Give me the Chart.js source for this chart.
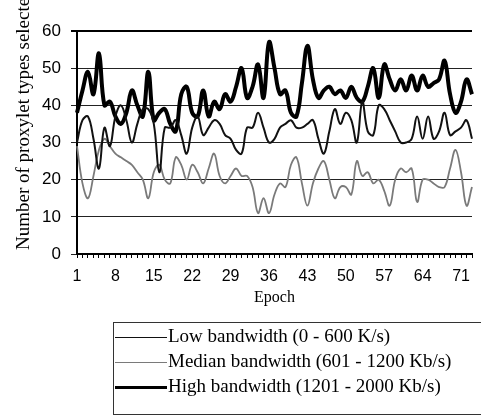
<!DOCTYPE html>
<html><head><meta charset="utf-8">
<script src="https://cdn.jsdelivr.net/npm/chart.js@4.4.0/dist/chart.umd.min.js"></script>
<style>
html,body{margin:0;padding:0;background:#fff;width:481px;height:419px;overflow:hidden;}
#wrap{position:relative;width:481px;height:419px;}
canvas{position:absolute;left:0;top:0;}
#legend{position:absolute;left:113px;top:322px;width:380px;height:93px;border:1px solid #333;box-sizing:border-box;font-family:'Liberation Serif','Times New Roman',serif;font-size:19px;color:#000;}
.row{position:absolute;left:1px;height:24px;line-height:24px;white-space:nowrap;}
.sw{display:inline-block;width:52px;vertical-align:middle;margin-right:1px;}
</style></head>
<body><div id="wrap"><canvas id="c" width="481" height="419"></canvas><div id="legend"></div></div>
<script>
const epochs = [1,2,3,4,5,6,7,8,9,10,11,12,13,14,15,16,17,18,19,20,21,22,23,24,25,26,27,28,29,30,31,32,33,34,35,36,37,38,39,40,41,42,43,44,45,46,47,48,49,50,51,52,53,54,55,56,57,58,59,60,61,62,63,64,65,66,67,68,69,70,71,72,73];
const tickLabels = ['1','8','15','22','29','36','43','50','57','64','71'];
const seriesNames = ['Low bandwidth (0 - 600 K/s)','Median bandwidth (601 - 1200 Kb/s)','High bandwidth (1201 - 2000 Kb/s)'];
const lowBw = [30,36,37,31,23,34,29,37,40,36,30,35,39,39,35,22,34,34,36,32,27,34,37,32,34,36,35,32,31,28,27,34,34,38,34,30,31,34,35,36,34,34,35,36,31,27,33,39,35,38,36,30,41,33,32,40,39,36,33,30,30,31,37,31,37,31,33,38,32,33,34,36,31];
const medianBw = [29,19,15,21,28,31,29,27,26,25,24,22,20,15,22,24,20,19,26,24,20,24,22,19,23,27,21,19,21,23,21,21,18,11,15,11,16,19,18,24,26,19,13,19,23,25,20,15,18,18,16,25,21,22,19,20,17,13,20,23,22,23,14,20,20,19,18,18,23,28,22,13,18];
const highBw = [38,44,49,43,54,40,41,37,35,38,44,40,37,49,36,38,39,35,33,43,45,38,37,44,37,41,39,43,41,45,50,42,45,51,42,57,50,43,44,38,37,46,56,47,42,44,45,43,44,42,45,42,41,45,50,42,51,47,44,47,44,48,44,48,45,46,47,52,43,38,41,47,43];
const yTitle = 'Number of proxylet types selected';
const xTitle = 'Epoch';

const colors = ['#111111','#7a7a7a','#000000'];
const widths = [2,1.8,4];

const yTitlePlugin = {id:'ytitle', afterDraw(chart){
  const c = chart.ctx; c.save();
  c.font = '19px "Liberation Serif", "Times New Roman", serif';
  c.fillStyle = '#000';
  c.translate(29, 250); c.rotate(-Math.PI/2);
  c.textAlign = 'left'; c.textBaseline = 'alphabetic';
  c.fillText(yTitle, 0, 0); c.restore();
}};

new Chart(document.getElementById('c'), {
  type: 'line',
  data: {
    labels: epochs,
    datasets: [lowBw, medianBw, highBw].map((d, i) => ({
      label: seriesNames[i], data: d, borderColor: colors[i], borderWidth: widths[i],
      pointRadius: 0, tension: 0.4, fill: false
    }))
  },
  options: {
    responsive: false, animation: false, devicePixelRatio: 1,
    layout: {padding: {left: 0, right: 3, top: 31, bottom: 108}},
    plugins: {legend: {display: false}, tooltip: {enabled: false}},
    scales: {
      x: {
        type: 'category', offset: false,
        grid: {drawOnChartArea: false, drawTicks: true, tickLength: 4, color: '#000', lineWidth: 1},
        border: {color: '#000', width: 2},
        ticks: {autoSkip: false, maxRotation: 0, minRotation: 0, padding: 9, color: '#000',
          font: {family: '"Liberation Sans", Arial, sans-serif', size: 16},
          callback: function(v, i){ const l = String(epochs[i]); return tickLabels.includes(l) ? l : ''; }},
        title: {display: true, text: xTitle, color: '#000', font: {family: '"Liberation Serif", "Times New Roman", serif', size: 16}, padding: {top: 4, bottom: 4}},
        afterFit: function(s){ s.height = 57; }
      },
      y: {
        min: 0, max: 60,
        ticks: {stepSize: 10, padding: 10, color: '#000', font: {family: '"Liberation Sans", Arial, sans-serif', size: 17}},
        grid: {tickLength: 6, color: (ctx) => ctx.tick && ctx.tick.value === 60 ? '#000' : '#222', lineWidth: (ctx) => ctx.tick && ctx.tick.value === 60 ? 2 : 1},
        border: {color: '#000', width: 2},
        afterFit: function(s){ s.width = 77; }
      }
    }
  },
  plugins: [yTitlePlugin]
});

const leg = document.getElementById('legend');
seriesNames.forEach((n, i) => {
  const r = document.createElement('div'); r.className = 'row'; r.style.top = (1 + i*25) + 'px';
  const sw = document.createElement('span'); sw.className = 'sw';
  sw.style.borderTop = (i === 2 ? 3 : 1.5) + 'px solid ' + colors[i];
  r.appendChild(sw); r.appendChild(document.createTextNode(n)); leg.appendChild(r);
});
</script>
</body></html>
